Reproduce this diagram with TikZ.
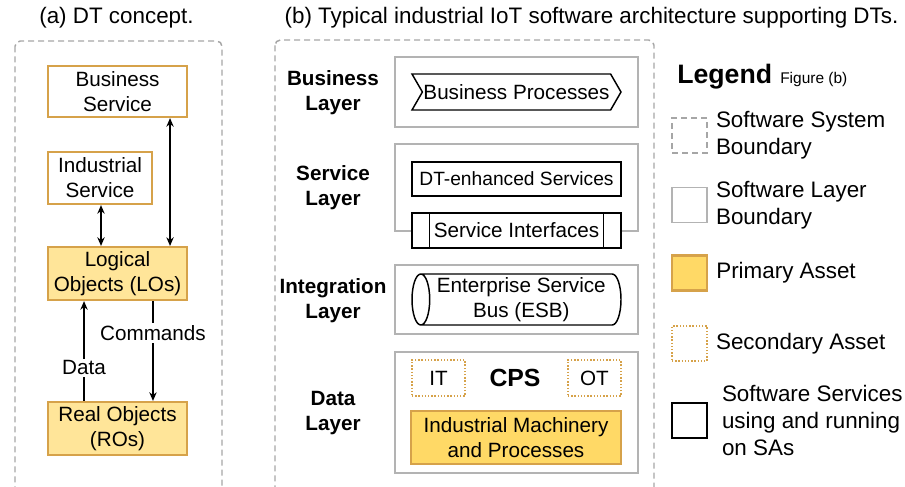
\documentclass[tikz,border=0pt]{standalone}
\usepackage{fontspec}
\setmainfont{Liberation Sans}
\definecolor{AssetOrange}{HTML}{D6A24A}
\definecolor{AssetYellow}{HTML}{FFD966}
\definecolor{AssetLight}{HTML}{FFE599}
\definecolor{LayerGray}{HTML}{B3B3B3}
\definecolor{BoundGray}{HTML}{A6A6A6}
\usetikzlibrary{shapes.geometric, shapes.symbols, arrows.meta, positioning, calc}
\newcommand{\boxsize}{\fontsize{15.5pt}{18.75pt}\selectfont}
\newcommand{\headsize}{\fontsize{16.8pt}{20.3pt}\selectfont}
\tikzset{
  % Boundary styles
  sysbound/.style={draw=BoundGray, line width=1.1pt, dash pattern=on 4.5pt off 3pt},
  layerbox/.style={rectangle, draw=LayerGray, line width=1.2pt, minimum width=182.25pt, inner sep=0pt},
  % Box styles
  conceptbox/.style={rectangle, draw=AssetOrange, line width=1.6pt, fill=white, align=center, inner sep=0pt},
  lightbox/.style={conceptbox, fill=AssetLight},
  primarybox/.style={conceptbox, fill=AssetYellow},
  secondarybox/.style={rectangle, draw=AssetOrange, line width=1.2pt, dash pattern=on 1.1pt off 1.3pt, inner sep=0pt},
  servicebox/.style={rectangle, draw=black, line width=1.1pt, fill=white, align=center, inner sep=0pt},
  layerlabel/.style={align=center, font=\boxsize\bfseries},
  % Legend styles
  legendsq/.style={minimum width=26.25pt, minimum height=26.25pt},
  legendtext/.style={align=left, inner sep=0pt, font=\headsize},
  % Arrow styles
  arrow/.style={-{Stealth[length=6.5pt, width=5.5pt]}, line width=1.1pt},
  biarrow/.style={{Stealth[length=6.5pt, width=5.5pt]}-{Stealth[length=6.5pt, width=5.5pt]}, line width=1.1pt},
  lbl/.style={fill=white, inner sep=1.5pt}
}

\begin{document}
\begin{tikzpicture}[x=0.75pt, y=-0.75pt, font=\boxsize]
  \useasboundingbox (0,0) rectangle (905,486);
  \clip (0,0) rectangle (905,486);

  % (a) DT concept
  \node[font=\headsize] (titleA) at (116.5,18) {(a) DT concept.};
  \draw[sysbound, rounded corners=4pt] (15,41) rectangle (222,530);
  \node[conceptbox, minimum width=104.25pt, minimum height=38.25pt] (bizsvc) at (117.5,91.5) {Business\\Service};
  \node[conceptbox, minimum width=78pt, minimum height=39pt] (indsvc) at (100,178) {Industrial\\Service};
  \node[lightbox, minimum width=104.25pt, minimum height=39.75pt] (lo) at (117.5,273.5) {Logical\\Objects (LOs)};
  \node[lightbox, minimum width=104.25pt, minimum height=39.75pt] (ro) at (117.5,428.5) {Real Objects\\(ROs)};
  \draw[biarrow] ([xshift=0.75pt]indsvc.south) -- ([xshift=0.75pt]indsvc.south |- lo.north);
  \draw[biarrow] ([xshift=39.4pt]bizsvc.south) -- ([xshift=39.4pt]lo.north);
  \draw[arrow] ([xshift=-25.1pt]ro.north) -- node[lbl, pos=0.33] (data) {Data} ([xshift=-25.1pt]lo.south);
  \draw[arrow] ([xshift=26.6pt]lo.south) -- node[lbl, pos=0.32] (cmds) {Commands} ([xshift=26.6pt]ro.north);

  % (b) Software architecture
  \node[font=\headsize] (titleB) at (591.5,18) {(b) Typical industrial IoT software architecture supporting DTs.};
  \draw[sysbound, rounded corners=4pt] (275,40) rectangle (654,530);

  % Layers
  \node[layerbox, minimum height=52.5pt] (bizlayer) at (516.5,92) {};
  \node[layerbox, minimum height=65.25pt] (svclayer) at (516.5,187.5) {};
  \node[layerbox, minimum height=51.75pt] (intlayer) at (516.5,299.5) {};
  \node[layerbox, minimum height=90.75pt] (datalayer) at (516.5,412.5) {};
  \node[layerlabel] (bizlbl) at (333,93) {Business\\Layer};
  \node[layerlabel] (svclbl) at (333,188) {Service\\Layer};
  \node[layerlabel] (intlbl) at (333,301) {Integration\\Layer};
  \node[layerlabel] (datalbl) at (333,413) {Data\\Layer};

  % Layer contents
  \node[servicebox, signal, signal to=east, signal from=west, signal pointer angle=120, minimum width=156.75pt, minimum height=27pt] (bizproc) at (516.5,92) {Business Processes};
  \node[servicebox, minimum width=156.75pt, minimum height=25.5pt, font=\fontsize{14.4pt}{17pt}\selectfont] (dtsvc) at (516.5,179) {DT-enhanced Services};
  \node[servicebox, minimum width=156.75pt, minimum height=26.25pt] (svcif) at (516.5,230.5) {Service Interfaces};
  \draw[line width=1.1pt] ([xshift=13.5pt]svcif.north west) -- ([xshift=13.5pt]svcif.south west);
  \draw[line width=1.1pt] ([xshift=-13.5pt]svcif.north east) -- ([xshift=-13.5pt]svcif.south east);
  \node[servicebox, cylinder, shape border rotate=180, aspect=0.4, minimum width=38.25pt, minimum height=156.75pt, anchor=shape center] (esb) at (516.5,299.5) {Enterprise Service\\Bus (ESB)};
  \node[secondarybox, minimum width=39.75pt, minimum height=27pt] (it) at (438.5,378) {IT};
  \node[secondarybox, minimum width=39.75pt, minimum height=27pt] (ot) at (594.5,378) {OT};
  \node[font=\fontsize{18.6pt}{22pt}\selectfont\bfseries] (cps) at (515,378) {CPS};
  \node[primarybox, minimum width=157.5pt, minimum height=39.75pt] (mach) at (516,437.5) {Industrial Machinery\\and Processes};

  % Legend
  \node[anchor=base west, inner sep=0pt, font=\fontsize{20pt}{24pt}\selectfont\bfseries] (lgtitle) at (677,83) {Legend};
  \node[anchor=base west, inner sep=0pt, font=\fontsize{11.6pt}{14pt}\selectfont] (lgsub) at (780,83) {Figure (b)};
  \node[legendsq, sysbound] (lgsys) at (689.5,135.5) {};
  \node[legendsq, draw=LayerGray, line width=1.2pt] (lglayer) at (689.5,205) {};
  \node[legendsq, conceptbox, fill=AssetYellow] (lgprim) at (689.5,273) {};
  \node[legendsq, secondarybox] (lgsec) at (689.5,343.5) {};
  \node[legendsq, servicebox] (lgsvc) at (689.5,420.5) {};
  \node[legendtext, right=6pt of lgsys] (lgsystxt) {Software System\\Boundary};
  \node[legendtext, right=6pt of lglayer] (lglayertxt) {Software Layer\\Boundary};
  \node[legendtext, right=6pt of lgprim] (lgprimtxt) {Primary Asset};
  \node[legendtext, right=6pt of lgsec] (lgsectxt) {Secondary Asset};
  \node[legendtext, right=10.5pt of lgsvc] (lgsvctxt) {Software Services\\using and running\\on SAs};
\end{tikzpicture}
\end{document}
